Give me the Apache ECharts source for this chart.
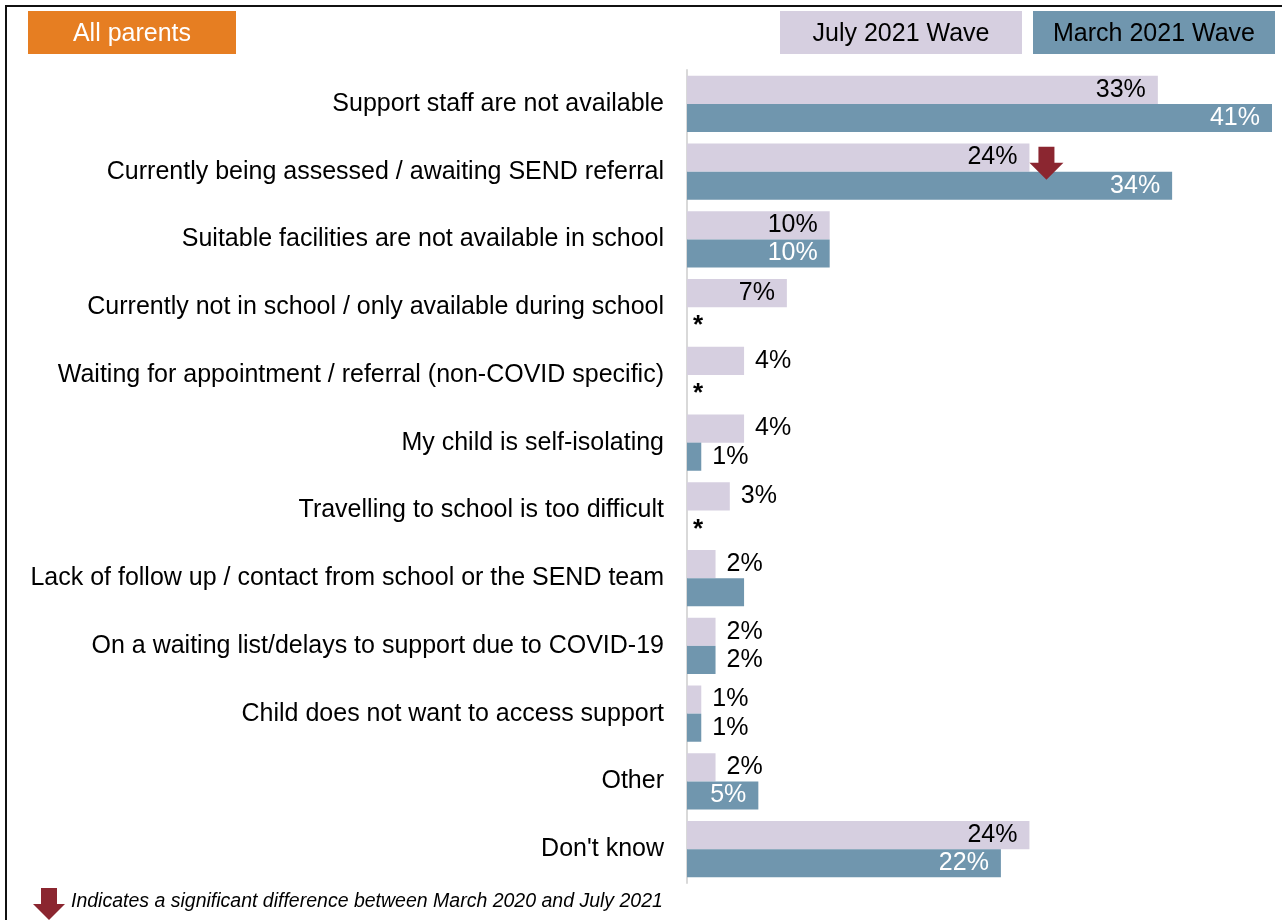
<!DOCTYPE html>
<html>
<head>
<meta charset="utf-8">
<script src="https://cdn.jsdelivr.net/npm/echarts@6/dist/echarts.min.js"></script>
<style>
  html, body { margin: 0; padding: 0; background: #fff; }
  #chart { width: 1282px; height: 920px; }
</style>
</head>
<body>
<div id="chart"></div>
<script>
// Reasons support is not being received, share of parents (%)
const categories = [
  'Support staff are not available',
  'Currently being assessed / awaiting SEND referral',
  'Suitable facilities are not available in school',
  'Currently not in school / only available during school',
  'Waiting for appointment / referral (non-COVID specific)',
  'My child is self-isolating',
  'Travelling to school is too difficult',
  'Lack of follow up / contact from school or the SEND team',
  'On a waiting list/delays to support due to COVID-19',
  'Child does not want to access support',
  'Other',
  "Don't know"
];
const july2021 = [33, 24, 10, 7, 4, 4, 3, 2, 2, 1, 2, 24];
// null = fewer than 0.5% (shown as *)
const march2021 = [41, 34, 10, null, null, 1, null, 4, 2, 1, 5, 22];
// March value drawn without a label
const marchUnlabelled = [7];
// rows with a significant change between waves
const significantRows = [1];

const JULY = '#d6cfe0';
const MARCH = '#7096ae';
const ARROW = '#8b2630';
const FONT = '"Liberation Sans", Arial, sans-serif';
const FS = 25;

const chart = echarts.init(document.getElementById('chart'));

function labelFor(v, insideColor) {
  const inside = v >= 5;
  return {
    show: true,
    position: inside ? 'insideRight' : 'right',
    distance: inside ? 12 : 11,
    color: inside ? insideColor : '#000',
    fontSize: FS,
    fontFamily: FONT
  };
}

const julyData = july2021.map(v => ({ value: v, label: labelFor(v, '#000') }));
const marchData = march2021.map((v, i) => {
  if (v === null) {
    return {
      value: 0,
      label: { show: true, position: 'right', distance: 6, formatter: '*',
        color: '#000', fontSize: 26, fontWeight: 'bold', fontFamily: FONT, offset: [0, 5] }
    };
  }
  const lab = labelFor(v, '#fff');
  if (marchUnlabelled.includes(i)) lab.show = false;
  return { value: v, label: lab };
});

const option = {
  animation: false,
  grid: { left: 687, right: 10, top: 70, bottom: 37 },
  xAxis: {
    type: 'value', min: 0, max: 41,
    show: false
  },
  yAxis: {
    type: 'category',
    data: categories,
    inverse: true,
    axisTick: { show: false },
    axisLine: { show: true, lineStyle: { color: '#d9d9d9', width: 2 } },
    axisLabel: { color: '#000', fontSize: FS, fontFamily: FONT, margin: 23 }
  },
  series: [
    {
      name: 'July 2021 Wave', type: 'bar', data: julyData,
      barGap: '0%', barCategoryGap: '17%',
      itemStyle: { color: JULY },
      label: { formatter: p => p.value + '%' }
    },
    {
      name: 'March 2021 Wave', type: 'bar', data: marchData,
      itemStyle: { color: MARCH },
      label: { formatter: p => p.value + '%' }
    }
  ],
  graphic: [
    // outer frame
    { type: 'polyline', shape: { points: [[6, 925], [6, 6], [1290, 6]] },
      style: { stroke: '#111', lineWidth: 2, fill: null } },
    // title tag
    { type: 'rect', shape: { x: 28, y: 11, width: 208, height: 43 }, style: { fill: '#e67e22' } },
    { type: 'text', x: 132, y: 34, style: { text: 'All parents', fill: '#fff', fontSize: FS,
      fontFamily: FONT, align: 'center', verticalAlign: 'middle' } },
    // legend boxes
    { type: 'rect', shape: { x: 780, y: 11, width: 242, height: 43 }, style: { fill: JULY } },
    { type: 'text', x: 901, y: 34, style: { text: 'July 2021 Wave', fill: '#000', fontSize: FS,
      fontFamily: FONT, align: 'center', verticalAlign: 'middle' } },
    { type: 'rect', shape: { x: 1033, y: 11, width: 242, height: 43 }, style: { fill: MARCH } },
    { type: 'text', x: 1154, y: 34, style: { text: 'March 2021 Wave', fill: '#000', fontSize: FS,
      fontFamily: FONT, align: 'center', verticalAlign: 'middle' } },
    // footnote
    { type: 'polygon', shape: { points: [[41, 888], [57, 888], [57, 904], [65, 904], [49, 920], [33, 904], [41, 904]] },
      style: { fill: ARROW } },
    { type: 'text', x: 71, y: 902, style: { text: 'Indicates a significant difference between March 2020 and July 2021',
      fill: '#000', fontSize: 19.5, fontStyle: 'italic', fontFamily: FONT, verticalAlign: 'middle' } }
  ]
};

chart.setOption(option);

// significance arrows placed just after the July bar end
const arrows = significantRows.map(i => {
  const end = chart.convertToPixel({ gridIndex: 0 }, [july2021[i], i]);
  const cx = end[0] + 17;
  const top = end[1] - 33.9 + 9;
  return {
    type: 'polygon',
    shape: { points: [[cx - 8, top], [cx + 8, top], [cx + 8, top + 16], [cx + 17, top + 16],
      [cx, top + 33], [cx - 17, top + 16], [cx - 8, top + 16]] },
    style: { fill: ARROW }, z: 10
  };
});
chart.setOption({ graphic: option.graphic.concat(arrows) });
</script>
</body>
</html>
